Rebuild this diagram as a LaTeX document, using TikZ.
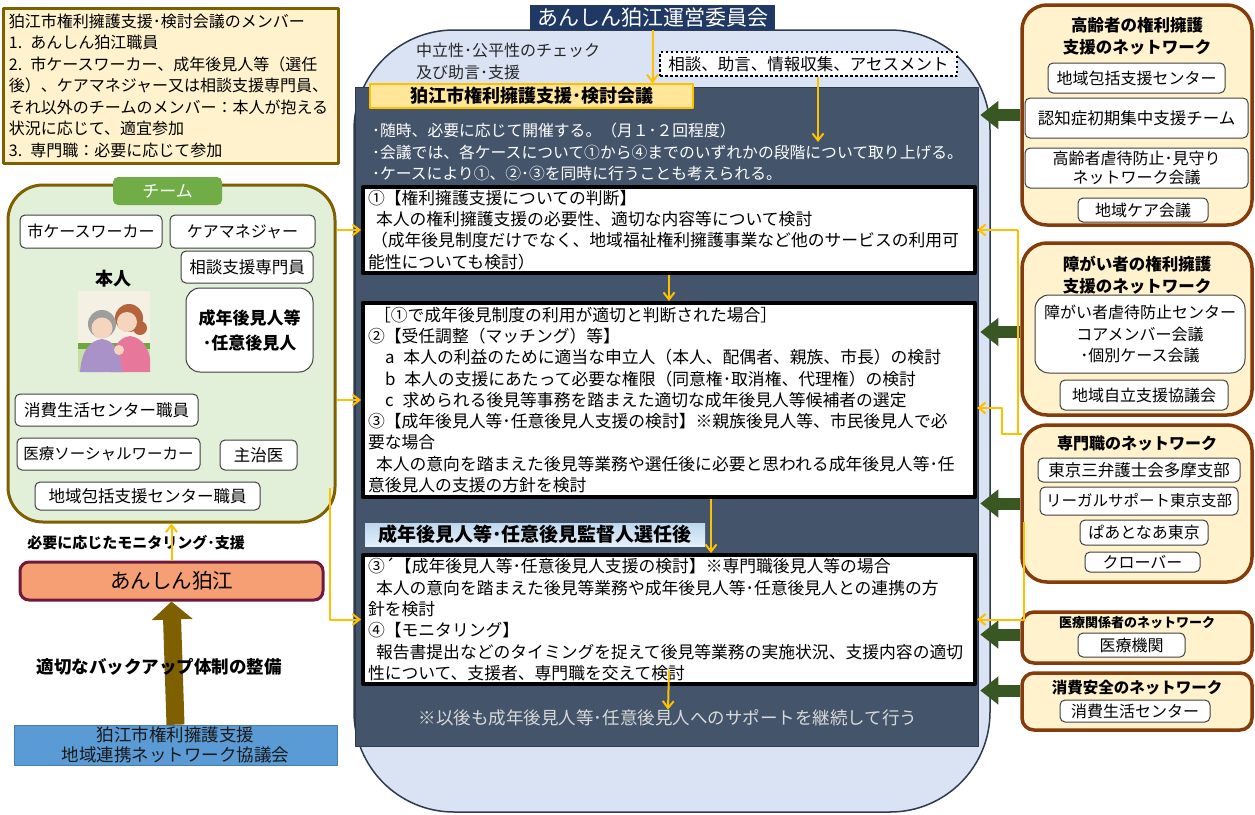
\documentclass[tikz,border=0pt]{standalone}
\usepackage{fontspec}
\setmainfont{Noto Sans CJK JP}
\usetikzlibrary{arrows.meta,calc}

\definecolor{memofill}{HTML}{FFF2CC}
\definecolor{memoline}{HTML}{7F6000}
\definecolor{teamfill}{HTML}{E2EFD9}
\definecolor{teamtag}{HTML}{70AD47}
\definecolor{linkyellow}{HTML}{FFC000}
\definecolor{panelblue}{HTML}{DAE3F3}
\definecolor{paneldark}{HTML}{44546A}
\definecolor{rim}{HTML}{2F3B4C}
\definecolor{titlenavy}{HTML}{1F3864}
\definecolor{headfill}{HTML}{FFE699}
\definecolor{postblue}{HTML}{BDD7EE}
\definecolor{followgray}{HTML}{D9D9D9}
\definecolor{netline}{HTML}{843C0C}
\definecolor{netgreen}{HTML}{385723}
\definecolor{anshinfill}{HTML}{F79F74}
\definecolor{anshinline}{HTML}{6E1A3A}
\definecolor{backup}{HTML}{7F6000}
\definecolor{councilblue}{HTML}{5B9BD5}
\definecolor{skin}{HTML}{F6D5BE}
\definecolor{grayhair}{HTML}{9E9E9E}
\definecolor{lilac}{HTML}{A892C8}
\definecolor{pinkcoat}{HTML}{E7789B}
\definecolor{brownhair}{HTML}{B5653E}
\definecolor{photobg}{HTML}{F4F1E4}
\definecolor{grass}{HTML}{6FA83A}
\definecolor{lawn}{HTML}{C8E0A8}

\begin{document}
\begin{tikzpicture}[x=1pt, y=-1pt, >={Straight Barb[length=7pt,width=11pt]}, line join=round,
  every node/.style={inner sep=0pt},
  link/.style={draw=linkyellow, line width=2pt, ->},
  member/.style={draw=black!75, fill=white, rounded corners=5pt, line width=1pt, font=\fontsize{16}{19}\selectfont},
  netbox/.style={draw=netline, fill=memofill, line width=3.5pt, rounded corners=25pt},
  nettitle/.style={font=\fontsize{16.5}{22}\selectfont\bfseries, align=center},
  stepcard/.style={draw=black, fill=white, line width=4pt, text width=602pt, minimum width=612pt, align=left, font=\fontsize{16.8}{21.3}\selectfont},
  netarrow/.style={draw=netgreen, line width=12pt, -{Triangle[width=27pt,length=18pt]}}]
\fill[white] (0,0) rectangle (1255,814);
\useasboundingbox (0,0) rectangle (1255,814);

\node[draw=memoline, fill=memofill, line width=3pt, minimum width=335pt, minimum height=155pt, text width=323pt, align=left, font=\fontsize{16}{21.5}\selectfont] (members) at (170.5,85.5) {狛江市権利擁護支援･検討会議のメンバー\\
1. あんしん狛江職員\\
2. 市ケースワーカー、成年後見人等（選任\\
後）、ケアマネジャー又は相談支援専門員、\\
それ以外のチームのメンバー：本人が抱える\\
状況に応じて、適宜参加\\
3. 専門職：必要に応じて参加};

\node[draw=memoline, fill=teamfill, line width=3pt, rounded corners=35pt, minimum width=327pt, minimum height=337pt] (team) at (171.5,353.5) {};
\node[fill=teamtag, rounded corners=5pt, minimum width=109pt, minimum height=28pt, text=white, font=\fontsize{17}{20}\selectfont] (teamtag) at (167.5,191) {チーム};
\node[member, minimum width=142pt, minimum height=33pt] (cw) at (91,231.5) {市ケースワーカー};
\node[member, minimum width=145pt, minimum height=33pt] (cm) at (242.5,231.5) {ケアマネジャー};
\node[member, minimum width=132pt, minimum height=32pt, font=\fontsize{16.5}{19}\selectfont] (sp) at (247,267) {相談支援専門員};
\node[font=\fontsize{18}{20}\selectfont\bfseries] (self) at (113,279) {本人};
\node[member, rounded corners=14pt, minimum width=127pt, minimum height=84pt, align=center, font=\fontsize{17}{25}\selectfont\bfseries] (guardian) at (249.5,330) {成年後見人等\\･任意後見人};
\node[member, minimum width=183pt, minimum height=32pt, font=\fontsize{16.5}{19}\selectfont] (cons) at (106.5,410) {消費生活センター職員};
\node[member, minimum width=183pt, minimum height=32pt, font=\fontsize{15.5}{19}\selectfont] (msw) at (108.5,454) {医療ソーシャルワーカー};
\node[member, minimum width=77pt, minimum height=30pt, font=\fontsize{16.5}{19}\selectfont] (doc) at (258.5,455) {主治医};
\node[member, minimum width=225pt, minimum height=28pt, font=\fontsize{16.5}{19}\selectfont] (hub) at (147.5,496) {地域包括支援センター職員};

\begin{scope}
\clip (78,291) rectangle (150,372);
\fill[photobg] (78,291) rectangle (150,372);
\fill[grass] (78,343) rectangle (150,349);
\fill[lawn] (78,349) rectangle (150,372);
\fill[pinkcoat] (110,372) .. controls (112,346) and (118,338) .. (130,336) .. controls (142,338) and (150,346) .. (152,372) -- cycle;
\fill[brownhair] (129,318) circle (14);
\fill[brownhair] (140,328) circle (7);
\fill[skin] (127,322) circle (10);
\fill[lilac] (80,372) .. controls (82,349) and (90,341) .. (102,339) .. controls (114,341) and (120,349) .. (122,372) -- cycle;
\fill[grayhair] (102,324) circle (14);
\fill[skin] (102,328) circle (10.5);
\fill[skin] (119,350) circle (5);
\end{scope}

\node[font=\fontsize{15}{18}\selectfont\bfseries] (monitoring) at (136,543) {必要に応じたモニタリング･支援};
\node[draw=anshinline, fill=anshinfill, line width=3pt, rounded corners=9pt, minimum width=303pt, minimum height=38pt, font=\fontsize{20.5}{24}\selectfont] (anshin) at (171.5,581) {あんしん狛江};
\node[fill=councilblue, draw=councilblue!80!black, line width=0.6pt, minimum width=323pt, minimum height=40pt, align=center, text=black!90, font=\fontsize{17.5}{20}\selectfont] (council) at (175.5,745) {狛江市権利擁護支援\\地域連携ネットワーク協議会};
\draw[draw=backup, line width=18pt, -{Triangle[width=40pt,length=18pt]}] (council.north) -- (anshin.south);
\node[font=\fontsize{17.5}{20}\selectfont\bfseries] (backuptext) at (159,667) {適切なバックアップ体制の整備};

\draw[draw=rim, fill=panelblue, line width=1.5pt, rounded corners=100pt] (354,30) rectangle (990,812);
\node[fill=paneldark, draw=rim, line width=1pt, minimum width=623pt, minimum height=659pt] (panel) at (666.5,416.5) {};
\node[fill=titlenavy, text=white, minimum width=245pt, minimum height=25pt, font=\fontsize{21}{24}\selectfont] (committee) at (652.5,17.5) {あんしん狛江運営委員会};
\node[anchor=west, align=left, text=black!85, font=\fontsize{16}{22}\selectfont] (neutral) at (416,61) {中立性･公平性のチェック\\及び助言･支援};
\node[draw=black, fill=white, line width=2.5pt, dash pattern=on 2.5pt off 2.5pt, minimum width=297pt, minimum height=24pt, font=\fontsize{16.5}{20}\selectfont] (advice) at (808.5,64) {相談、助言、情報収集、アセスメント};
\node[fill=headfill, draw=linkyellow, line width=1.5pt, minimum width=323pt, minimum height=24pt, font=\fontsize{18}{20}\selectfont\bfseries] (head) at (531.5,96) {狛江市権利擁護支援･検討会議};
\node[anchor=west, align=left, text=white, font=\fontsize{15.8}{21.5}\selectfont] (notes) at (372,152) {･随時、必要に応じて開催する。（月１･２回程度）\\
･会議では、各ケースについて①から④までのいずれかの段階について取り上げる。\\
･ケースにより①、②･③を同時に行うことも考えられる。};

\node[stepcard, minimum height=86pt] (judge) at (669,230) {①【権利擁護支援についての判断】\\
\hspace*{8pt}本人の権利擁護支援の必要性、適切な内容等について検討\\
\hspace*{3pt}（成年後見制度だけでなく、地域福祉権利擁護事業など他のサービスの利用可\\
能性についても検討）};
\node[stepcard, minimum height=194pt] (match) at (669,400) {\hspace*{6pt}［①で成年後見制度の利用が適切と判断された場合］\\
②【受任調整（マッチング）等】\\
\hspace*{17pt}a\kern9pt 本人の利益のために適当な申立人（本人、配偶者、親族、市長）の検討\\
\hspace*{17pt}b\kern9pt 本人の支援にあたって必要な権限（同意権･取消権、代理権）の検討\\
\hspace*{17pt}c\kern9pt 求められる後見等事務を踏まえた適切な成年後見人等候補者の選定\\
③【成年後見人等･任意後見人支援の検討】※親族後見人等、市民後見人で必\\
要な場合\\
\hspace*{8pt}本人の意向を踏まえた後見等業務や選任後に必要と思われる成年後見人等･任\\
意後見人の支援の方針を検討};
\node[top color=postblue, bottom color=white!60!postblue, minimum width=340pt, minimum height=23pt, font=\fontsize{19}{21}\selectfont\bfseries] (after) at (535,534.5) {成年後見人等･任意後見監督人選任後};
\node[stepcard, minimum height=129pt] (monitorbox) at (669,619.5) {③´【成年後見人等･任意後見人支援の検討】※専門職後見人等の場合\\
\hspace*{8pt}本人の意向を踏まえた後見等業務や成年後見人等･任意後見人との連携の方\\
針を検討\\
④【モニタリング】\\
\hspace*{8pt}報告書提出などのタイミングを捉えて後見等業務の実施状況、支援内容の適切\\
性について、支援者、専門職を交えて検討};
\node[text=followgray, font=\fontsize{17.5}{20}\selectfont] (follow) at (668,718) {※以後も成年後見人等･任意後見人へのサポートを継続して行う};

\node[netbox, minimum width=230pt, minimum height=220pt] (eldnet) at (1137,115) {};
\node[nettitle] (eldtitle) at (1137,36) {高齢者の権利擁護\\支援のネットワーク};
\node[member, minimum width=177pt, minimum height=30pt] (eldhub) at (1136.5,78) {地域包括支援センター};
\node[member, minimum width=223pt, minimum height=40pt, font=\fontsize{16.5}{19}\selectfont] (eldteam) at (1136.5,118) {認知症初期集中支援チーム};
\node[member, minimum width=223pt, minimum height=40pt, align=center] (eldwatch) at (1136.5,168) {高齢者虐待防止･見守り\\ネットワーク会議};
\node[member, minimum width=130pt, minimum height=24pt] (eldcare) at (1143,210) {地域ケア会議};

\node[netbox, minimum width=230pt, minimum height=172pt] (disnet) at (1137,329) {};
\node[nettitle] (distitle) at (1137,275) {障がい者の権利擁護\\支援のネットワーク};
\node[member, rounded corners=14pt, minimum width=210pt, minimum height=78pt, align=center, font=\fontsize{16}{21.5}\selectfont] (disabuse) at (1140,334) {障がい者虐待防止センター\\コアメンバー会議\\･個別ケース会議};
\node[member, minimum width=168pt, minimum height=30pt] (disself) at (1144,395) {地域自立支援協議会};

\node[netbox, minimum width=230pt, minimum height=157pt] (pronet) at (1137,503.5) {};
\node[nettitle, font=\fontsize{16}{20}\selectfont\bfseries] (protitle) at (1137,443) {専門職のネットワーク};
\node[member, minimum width=202pt, minimum height=24pt, font=\fontsize{16.5}{19}\selectfont] (probar) at (1139,470) {東京三弁護士会多摩支部};
\node[member, minimum width=198pt, minimum height=28pt, font=\fontsize{15.5}{19}\selectfont] (prolegal) at (1139,501) {リーガルサポート東京支部};
\node[member, minimum width=128pt, minimum height=25pt] (propartner) at (1144,532.5) {ぱあとなあ東京};
\node[member, minimum width=115pt, minimum height=20pt] (proclover) at (1142.5,562) {クローバー};

\node[netbox, rounded corners=12pt, minimum width=230pt, minimum height=51pt] (mednet) at (1137,637.5) {};
\node[font=\fontsize{13}{15}\selectfont\bfseries] (medtitle) at (1137,623) {医療関係者のネットワーク};
\node[member, minimum width=107pt, minimum height=24pt] (medorg) at (1131.5,645) {医療機関};

\node[netbox, rounded corners=12pt, minimum width=230pt, minimum height=57pt] (connet) at (1137,701.5) {};
\node[font=\fontsize{15.5}{18}\selectfont\bfseries] (context) at (1137,688) {消費安全のネットワーク};
\node[member, minimum width=150pt, minimum height=22pt] (concenter) at (1135,711) {消費生活センター};

\foreach \n/\s in {eldnet/0,disnet/-3,pronet/0,mednet/3,connet/11}
  \draw[netarrow] ([yshift=\s]\n.west) -- ++(-40,0);

\path (818,142)coordinate(adv) (711,0)coordinate(mid) (330,488)coordinate(teamtail)
  (1022,434)coordinate(pa) (1024,522)coordinate(pb);
\draw[link] (committee.south) -- (committee.south |- head.north);
\draw[link] (advice.south -| adv) -- (adv);
\draw[link] (judge.south) -- (match.north);
\draw[link] (match.south -| mid) -- (monitorbox.north -| mid);
\draw[link] ([yshift=16]monitorbox.south) -- (follow.north);
\draw[link] (judge.west -| team.east) -- (judge.west);
\draw[link] (match.west -| team.east) -- (match.west);
\draw[link] (teamtail) |- (monitorbox.west);
\draw[link] (anshin.north) -- (anshin.north |- team.south);
\draw[link] (pa) -- (1018,434) |- (judge.east);
\draw[link] (pa) -- (1002,434) |- ([yshift=-8]match.east);
\draw[link] (pb) |- (monitorbox.east);
\end{tikzpicture}
\end{document}
